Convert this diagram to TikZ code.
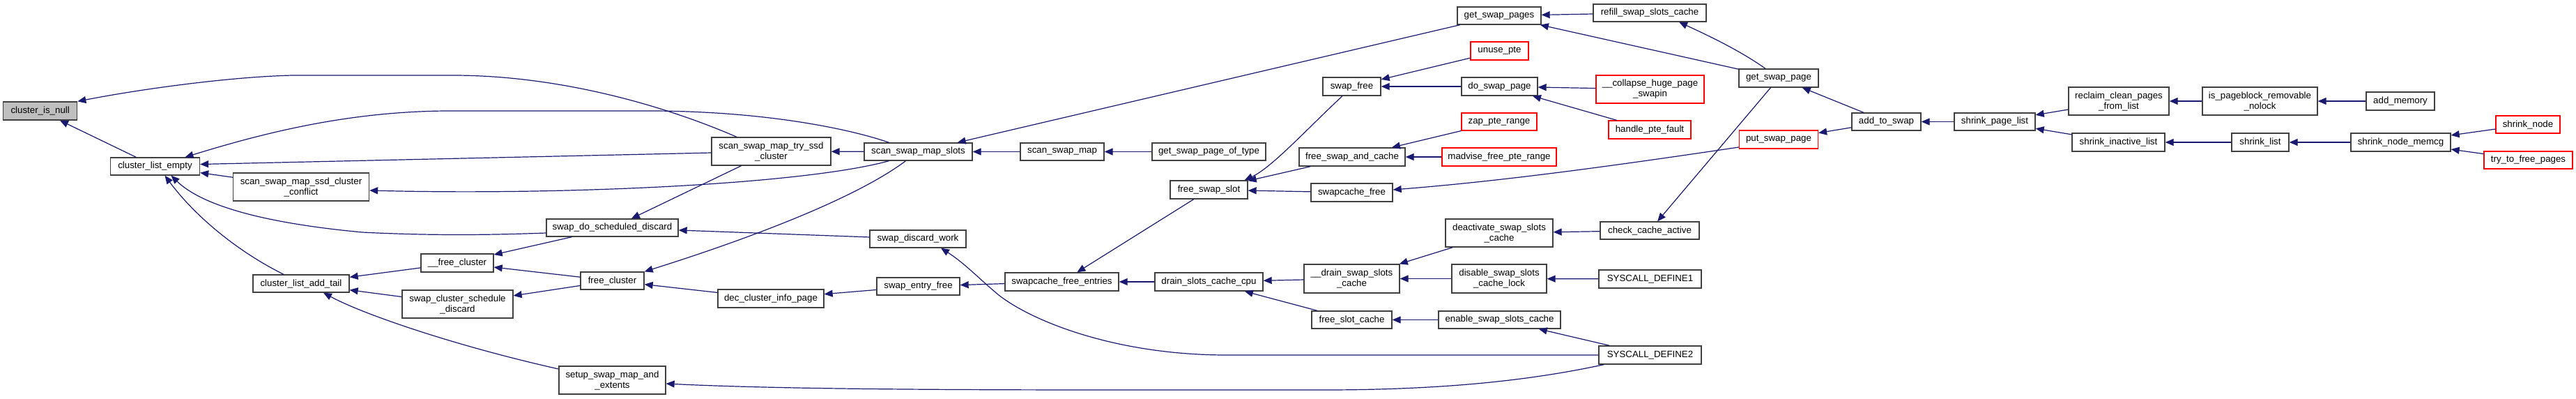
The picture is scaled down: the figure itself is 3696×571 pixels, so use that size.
\documentclass[tikz,border=0pt]{standalone}
\usepackage{fontspec}
\setmainfont{Liberation Sans}
\usetikzlibrary{arrows.meta,calc}
\definecolor{edgec}{HTML}{191970}
\definecolor{boxc}{HTML}{404040}
\definecolor{rootc}{HTML}{BFBFBF}
\definecolor{redc}{HTML}{FF0000}
\tikzset{
  box/.style={draw=boxc, line width=1.3pt, fill=white, rectangle, inner sep=0pt, align=center,
              font=\fontsize{13.3}{15}\selectfont, text=black},
  redbox/.style={box, draw=redc},
  rootbox/.style={box, fill=rootc},
  edge/.style={draw=edgec, line width=1.2pt, >={Triangle[length=12pt,width=10pt]}, <-},
}
\begin{document}
\begin{tikzpicture}[x=1pt,y=-1pt]
\useasboundingbox (0,0) rectangle (3696,571);
% nodes
\node[rootbox, minimum width=106, minimum height=26] (isnull) at (57.7,159) {cluster\_is\_null};
\node[box, minimum width=128, minimum height=25] (empty) at (222.5,238.5) {cluster\_list\_empty};
\node[box, minimum width=195, minimum height=40] (conflict) at (432,268) {scan\_swap\_map\_ssd\_cluster\\\_conflict};
\node[box, minimum width=138, minimum height=25] (addtail) at (432,406.5) {cluster\_list\_add\_tail};
\node[box, minimum width=104, minimum height=26] (freeclA) at (656,377) {\_\_free\_cluster};
\node[box, minimum width=159, minimum height=40] (schedisc) at (656.5,436) {swap\_cluster\_schedule\\\_discard};
\node[box, minimum width=189, minimum height=25] (doschd) at (878.5,326.5) {swap\_do\_scheduled\_discard};
\node[box, minimum width=91, minimum height=25] (freecl) at (878.5,402.5) {free\_cluster};
\node[box, minimum width=153, minimum height=40] (setup) at (878.5,545) {setup\_swap\_map\_and\\\_extents};
\node[box, minimum width=152, minimum height=26] (deccip) at (1106,428) {dec\_cluster\_info\_page};
\node[box, minimum width=171, minimum height=40] (tryssd) at (1106.5,217) {scan\_swap\_map\_try\_ssd\\\_cluster};
\node[box, minimum width=155, minimum height=25] (slots) at (1317.5,217.5) {scan\_swap\_map\_slots};
\node[box, minimum width=138, minimum height=25] (sdw) at (1317,342.5) {swap\_discard\_work};
\node[box, minimum width=119, minimum height=25] (sef) at (1317.5,410.5) {swap\_entry\_free};
\node[box, minimum width=120, minimum height=25] (ssm) at (1524,217.5) {scan\_swap\_map};
\node[box, minimum width=163, minimum height=26] (sfe) at (1523.5,404) {swapcache\_free\_entries};
\node[box, minimum width=163, minimum height=25] (gspot) at (1734.5,217.5) {get\_swap\_page\_of\_type};
\node[box, minimum width=111, minimum height=26] (fss) at (1734.5,272) {free\_swap\_slot};
\node[box, minimum width=155, minimum height=26] (dscc) at (1734.5,404) {drain\_slots\_cache\_cpu};
\node[box, minimum width=83, minimum height=26] (swapfree) at (1939.5,124) {swap\_free};
\node[box, minimum width=152, minimum height=26] (fsac) at (1940,225) {free\_swap\_and\_cache};
\node[box, minimum width=117, minimum height=26] (scf) at (1939.5,276) {swapcache\_free};
\node[box, minimum width=137, minimum height=41] (drainA) at (1939.5,399.5) {\_\_drain\_swap\_slots\\\_cache};
\node[box, minimum width=115, minimum height=25] (fsc) at (1939.5,458.5) {free\_slot\_cache};
\node[box, minimum width=120, minimum height=25] (gsps) at (2151,22.5) {get\_swap\_pages};
\node[redbox, minimum width=83, minimum height=26] (unuse) at (2151.5,73) {unuse\_pte};
\node[box, minimum width=109, minimum height=26] (dsp) at (2151.5,124) {do\_swap\_page};
\node[redbox, minimum width=108, minimum height=25] (zap) at (2151,174.5) {zap\_pte\_range};
\node[redbox, minimum width=164, minimum height=26] (madv) at (2151,225) {madvise\_free\_pte\_range};
\node[box, minimum width=154, minimum height=40] (deact) at (2151,334) {deactivate\_swap\_slots\\\_cache};
\node[box, minimum width=136, minimum height=41] (disable) at (2151,399.5) {disable\_swap\_slots\\\_cache\_lock};
\node[box, minimum width=175, minimum height=25] (essc) at (2151.5,458.5) {enable\_swap\_slots\_cache};
\node[box, minimum width=162, minimum height=25] (refill) at (2367,18.5) {refill\_swap\_slots\_cache};
\node[redbox, minimum width=155, minimum height=40] (collapse) at (2367.5,128) {\_\_collapse\_huge\_page\\\_swapin};
\node[redbox, minimum width=118, minimum height=26] (hpf) at (2367,186) {handle\_pte\_fault};
\node[box, minimum width=142, minimum height=25] (cca) at (2367,330.5) {check\_cache\_active};
\node[box, minimum width=147, minimum height=26] (sd1) at (2367.5,400) {SYSCALL\_DEFINE1};
\node[box, minimum width=147, minimum height=26] (sd2) at (2367.5,509) {SYSCALL\_DEFINE2};
\node[box, minimum width=114, minimum height=26] (gsp) at (2552,112) {get\_swap\_page};
\node[redbox, minimum width=113, minimum height=26] (psp) at (2552,200) {put\_swap\_page};
\node[box, minimum width=99, minimum height=25] (ats) at (2706.5,174.5) {add\_to\_swap};
\node[box, minimum width=116, minimum height=25] (spl) at (2862,174.5) {shrink\_page\_list};
\node[box, minimum width=144, minimum height=40] (reclaim) at (3040,145) {reclaim\_clean\_pages\\\_from\_list};
\node[box, minimum width=133, minimum height=26] (sil) at (3039.5,204) {shrink\_inactive\_list};
\node[box, minimum width=165, minimum height=40] (ispb) at (3242.5,145) {is\_pageblock\_removable\\\_nolock};
\node[box, minimum width=82, minimum height=26] (shrinklist) at (3243,204) {shrink\_list};
\node[box, minimum width=98, minimum height=26] (addmem) at (3444,145) {add\_memory};
\node[box, minimum width=143, minimum height=26] (snm) at (3444.5,204) {shrink\_node\_memcg};
\node[redbox, minimum width=92, minimum height=25] (shrinknode) at (3627,178.5) {shrink\_node};
\node[redbox, minimum width=127, minimum height=25] (ttfp) at (3627.5,229.5) {try\_to\_free\_pages};

% edges (arrow at callee = path start)
\draw[edge] (isnull) -- (empty);
\draw[edge] (isnull.north east) .. controls (200,128) and (330,110) .. (420,108) -- (650,108) .. controls (800,108) and (950,150) .. ($(tryssd.north)+(-49.5,0)$);
\draw[edge] ($(empty.north)+(43,0)$) .. controls (380,190) and (500,160) .. (640,159) -- (940,159) .. controls (1100,160) and (1220,185) .. ($(slots.north)+(-42,0)$);
\draw[edge] ($(empty.east)+(0,-3)$) -- ($(tryssd.west)+(0,2)$);
\draw[edge] (empty) -- (conflict);
\draw[edge] ($(conflict.east)+(0,5)$) .. controls (800,280) and (1150,265) .. ($(slots.south)+(-42,0)$);
\draw[edge] ($(empty.south)+(14,0)$) .. controls (280,310) and (340,360) .. ($(addtail.north)+(-25,0)$);
\draw[edge] ($(empty.south)+(23,0)$) .. controls (290,295) and (380,320) .. (520,333) .. controls (620,338) and (700,337) .. ($(doschd.west)+(0,7.5)$);
\draw[edge] (doschd) -- (tryssd);
\draw[edge] (doschd) -- (sdw);
\draw[edge] (freeclA) -- (doschd);
\draw[edge] (freeclA) -- (freecl);
\draw[edge] (schedisc) -- (freecl);
\draw[edge] (freecl.north east) .. controls (1050,350) and (1220,290) .. ($(slots.south)+(-18,0)$);
\draw[edge] (freecl) -- (deccip);
\draw[edge] (deccip) -- (sef);
\draw[edge] ($(setup.east)+(0,5)$) .. controls (1100,557) and (1300,559) .. (1600,559) -- (1900,559) .. controls (2100,559) and (2220,540) .. ($(sd2.south west)+(8,0)$);
\draw[edge] (addtail) -- (freeclA);
\draw[edge] (addtail) -- (schedisc);
\draw[edge] ($(addtail.south)+(32,0)$) .. controls (520,450) and (650,495) .. ($(setup.west)+(0,-16)$);
\draw[edge] (tryssd) -- (slots);
\draw[edge] (slots) -- (ssm);
\draw[edge] (slots) -- (gsps);
\draw[edge] (ssm) -- (gspot);
\draw[edge] (gsps) -- (refill);
\draw[edge] (gsps) -- (gsp);
\draw[edge] ($(refill.south)+(42,0)$) .. controls (2460,55) and (2500,75) .. ($(gsp.north)+(-19,0)$);
\draw[edge] (swapfree) -- (unuse);
\draw[edge] (swapfree) -- (dsp);
\draw[edge] (dsp) -- (collapse);
\draw[edge] (dsp) -- (hpf);
\draw[edge] ($(fss.north east)+(-5,0)$) .. controls (1825,240) and (1875,185) .. ($(swapfree.south)+(-13.5,0)$);
\draw[edge] (fss) -- (fsac);
\draw[edge] (fss) -- (scf);
\draw[edge] (fsac) -- (zap);
\draw[edge] (fsac) -- (madv);
\draw[edge] ($(scf.east)+(0,-4)$) .. controls (2150,260) and (2300,240) .. ($(psp.west)+(0,11)$);
\draw[edge] (gsp) -- (ats);
\draw[edge] (psp) -- (ats);
\draw[edge] (ats) -- (spl);
\draw[edge] (spl) -- (reclaim);
\draw[edge] (spl) -- (sil);
\draw[edge] (reclaim) -- (ispb);
\draw[edge] (ispb) -- (addmem);
\draw[edge] (sil) -- (shrinklist);
\draw[edge] (shrinklist) -- (snm);
\draw[edge] (snm) -- (shrinknode);
\draw[edge] (snm) -- (ttfp);
\draw[edge] (cca) -- (gsp);
\draw[edge] (deact) -- (cca);
\draw[edge] (drainA) -- (deact);
\draw[edge] (drainA) -- (disable);
\draw[edge] (disable) -- (sd1);
\draw[edge] (dscc) -- (drainA);
\draw[edge] (dscc) -- (fsc);
\draw[edge] (fsc) -- (essc);
\draw[edge] (essc) -- (sd2);
\draw[edge] (sfe) -- (dscc);
\draw[edge] (sfe) -- (fss);
\draw[edge] (sef) -- (sfe);
\draw[edge] ($(sdw.south)+(33,0)$) .. controls (1385,378) and (1405,400) .. (1433,423) .. controls (1480,460) and (1600,509) .. (1760,509) -- (sd2.west);
\end{tikzpicture}
\end{document}
